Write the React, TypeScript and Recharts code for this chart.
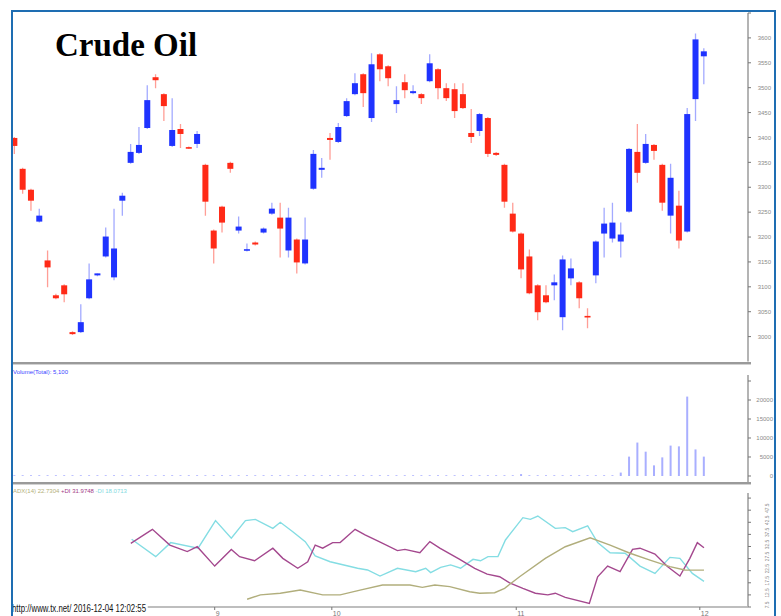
import React from 'react';
import { ComposedChart, BarChart, LineChart, Bar, Line, XAxis, YAxis } from 'recharts';

// ---- Price candles (one per trading day) ----
const opens = [3399,3337,3295,3231,3153,3083,3103,3009,3009,3077,3123,3161,3119,3273,3349,3369,3419,3521,3487,3383,3417,3380,3387,3345,3213,3261,3349,3213,3173,3189,3209,3247,3239,3173,3195,3147,3297,3335,3399,3391,3443,3487,3527,3439,3567,3543,3467,3511,3489,3487,3513,3537,3499,3497,3487,3409,3413,3439,3369,3345,3247,3207,3161,3103,3083,3103,3039,3117,3109,3041,3123,3207,3197,3191,3251,3371,3349,3385,3345,3243,3263,3211,3477,3563];
const highs = [3401,3339,3297,3257,3173,3086,3105,3011,3065,3147,3127,3219,3257,3289,3387,3421,3505,3527,3489,3479,3427,3382,3413,3347,3215,3263,3351,3241,3187,3191,3219,3269,3269,3259,3197,3239,3375,3359,3409,3429,3479,3529,3529,3569,3569,3545,3503,3527,3505,3489,3567,3539,3509,3509,3509,3457,3449,3441,3371,3347,3269,3209,3175,3105,3103,3125,3163,3157,3111,3057,3193,3259,3269,3229,3379,3427,3407,3387,3347,3347,3293,3459,3609,3579];
const lows = [3367,3287,3253,3229,3099,3075,3069,3003,3007,3075,3121,3159,3113,3243,3347,3367,3417,3499,3433,3381,3379,3377,3379,3243,3147,3209,3329,3207,3171,3183,3207,3245,3159,3159,3127,3145,3295,3319,3355,3389,3441,3485,3461,3431,3513,3503,3449,3479,3487,3467,3511,3477,3473,3439,3457,3389,3403,3361,3363,3259,3209,3117,3085,3033,3067,3073,3013,3103,3057,3017,3107,3159,3189,3159,3249,3309,3347,3355,3253,3207,3177,3209,3433,3507];
const closes = [3383,3295,3273,3243,3139,3077,3085,3005,3029,3115,3127,3201,3177,3283,3371,3385,3475,3515,3463,3415,3407,3378,3407,3271,3177,3229,3337,3221,3175,3185,3217,3257,3217,3239,3149,3195,3367,3339,3395,3421,3473,3509,3489,3547,3537,3519,3475,3495,3493,3479,3549,3499,3479,3453,3459,3401,3447,3367,3365,3271,3211,3135,3087,3049,3069,3109,3155,3137,3077,3039,3191,3227,3229,3205,3377,3329,3387,3373,3269,3319,3193,3447,3597,3573];
const volumes = [200,200,200,200,200,200,200,200,200,200,200,200,200,200,200,200,200,200,200,200,200,200,200,200,200,200,200,200,200,200,200,200,200,200,200,200,200,200,200,200,200,200,200,200,200,200,200,200,200,200,200,200,200,200,200,200,200,200,200,200,200,500,200,200,200,200,200,200,200,200,200,200,200,900,5100,8800,6400,2800,4900,8000,7800,20900,7000,5100];

// ---- Axis ticks ----
const priceTicks = [3000,3050,3100,3150,3200,3250,3300,3350,3400,3450,3500,3550,3600,3650];
const volumeTicks = [0,5000,10000,15000,20000,25000];
const adxTicks = [7.5,12.5,17.5,22.5,27.5,32.5,37.5,42.5,47.5,52.5];
const monthTickPos = [24.1, 38.2, 60.4, 82.5];
const monthLabels = ['9','10','11','12'];

// ---- ADX(14) indicator: [day position, value] ----
const adxPts = [[28.0,10.7],[29.6,12.5],[32.0,13.2],[34.4,14.5],[37.1,12.5],[39.2,12.5],[41.6,14.5],[44.3,16.6],[47.6,16.6],[49.1,15.6],[50.6,16.6],[52.4,15.9],[54.8,13.8],[56.0,13.2],[57.8,13.4],[59.0,15.2],[60.8,20.0],[63.9,27.6],[66.3,32.4],[69.3,36.1],[71.7,33.1],[74.1,29.7],[76.5,26.9],[78.9,24.2],[80.7,22.8],[83,22.73]];
const plusDiPts = [[14.0,33.8],[16.6,39.6],[18.7,33.1],[20.8,30.4],[22.0,32.4],[24.1,24.4],[26.1,31.3],[27.1,28.3],[28.9,26.6],[31.1,31.8],[32.3,27.6],[34.1,23.5],[35.3,26.2],[36.2,33.1],[37.1,31.8],[38.3,34.1],[39.2,34.1],[41.0,39.6],[42.2,37.3],[43.9,34.5],[46.1,30.8],[47.0,31.3],[48.8,29.9],[50.0,34.5],[51.2,31.8],[53.6,27.2],[55.4,23.5],[56.9,21.1],[58.4,20.0],[59.6,17.5],[61.2,15.2],[62.7,13.2],[64.2,12.5],[65.1,13.2],[66.3,11.5],[69.2,9.0],[70.2,20.0],[71.4,24.4],[72.9,22.1],[74.4,31.3],[75.3,31.8],[77.1,29.4],[78.6,24.2],[80.1,20.3],[81.3,27.6],[82.2,34.1],[83,31.97]];
const minusDiPts = [[14.1,35.5],[17.0,28.3],[18.8,34.1],[22.1,31.8],[24.2,43.2],[26.1,35.9],[27.8,43.2],[29.0,43.7],[31.1,40.0],[32.0,42.5],[33.5,38.6],[35.0,34.5],[36.2,28.6],[38.0,26.2],[41.3,23.5],[42.5,22.8],[44.0,20.3],[46.1,23.5],[48.3,22.1],[49.5,23.5],[50.1,21.7],[51.3,23.9],[52.5,24.9],[53.7,23.5],[55.2,27.2],[56.1,26.6],[57.0,28.3],[58.2,28.3],[59.1,35.2],[61.2,44.4],[62.1,43.7],[63.0,45.1],[65.1,40.0],[66.3,40.3],[67.2,38.6],[69.0,41.0],[70.2,34.1],[71.7,29.9],[73.5,29.7],[75.3,24.4],[77.1,21.4],[78.9,28.0],[80.1,27.6],[81.6,21.4],[83,18.07]];

const candleData = opens.map((o, i) => ({ i, open: o, high: highs[i], low: lows[i], close: closes[i], vol: volumes[i] }));
const toPts = (arr: number[][]) => arr.map(([i, v]) => ({ i, v }));
const adxData = toPts(adxPts);
const plusData = toPts(plusDiPts);
const minusData = toPts(minusDiPts);

const X_DOMAIN: [number, number] = [-0.301, 88.3];
const FONT = 'Liberation Sans, Arial, sans-serif';

const Candle = (props: any) => {
  const { x, y, width, height, payload } = props;
  if (x == null || y == null) return <g />;
  const { open, close, high, low } = payload;
  const up = close >= open;
  const span = high - low || 1;
  const yOf = (v: number) => y + ((high - v) / span) * height;
  const cx = x + width / 2;
  const top = yOf(Math.max(open, close));
  const bot = yOf(Math.min(open, close));
  const bh = Math.max(bot - top, 1.6);
  return (
    <g>
      <line x1={cx} x2={cx} y1={y} y2={y + height} stroke={up ? '#a3aaff' : '#ff9e96'} strokeWidth={1.3} />
      <rect x={x} y={top - (bh - (bot - top)) / 2} width={width} height={bh} fill={up ? '#1f33ff' : '#ff2a17'} />
    </g>
  );
};

const PriceTick = ({ y, payload }: any) =>
  payload.value === 3650 ? <g /> : (
    <text x={771} y={y} dy={2.2} textAnchor="end" fontSize={6} fill="#8a8a8a" fontFamily={FONT}>{payload.value}</text>
  );

const VolTick = ({ y, payload }: any) =>
  payload.value === 25000 ? <g /> : (
    <text x={773} y={y} dy={2.2} textAnchor="end" fontSize={6} fill="#8a8a8a" fontFamily={FONT}>{payload.value}</text>
  );

const AdxTick = ({ y, payload }: any) =>
  payload.value === 52.5 ? <g /> : (
    <text x={0} y={0} transform={`translate(769 ${y - 2}) rotate(-90)`} textAnchor="middle" fontSize={4.8} fill="#8a8a8a" fontFamily={FONT}>{payload.value}</text>
  );

const MonthTick = ({ x, y, payload }: any) => {
  const k = monthTickPos.indexOf(payload.value);
  return (
    <text x={x + 1} y={y + 4} fontSize={7} fill="#777" fontFamily={FONT}>{monthLabels[k]}</text>
  );
};

const abs = (left: number, top: number): React.CSSProperties => ({ position: 'absolute', left, top });

export default function App() {
  return (
    <div style={{ position: 'absolute', left: 0, top: 0, width: 781, height: 616, background: '#fff', overflow: 'hidden' }}>
      {/* Price panel */}
      <div style={abs(0, 0)}>
        <ComposedChart width={781} height={370} data={candleData} margin={{ top: 13, right: 0, bottom: 8.5, left: 12 }}>
          <XAxis type="number" dataKey="i" domain={X_DOMAIN} allowDataOverflow hide />
          <YAxis orientation="right" type="number" domain={[2950, 3650]} allowDataOverflow ticks={priceTicks} interval={0}
            width={33} axisLine={{ stroke: '#b4b4b4', strokeWidth: 2 }} tickLine={{ stroke: '#777' }} tickSize={3} tick={<PriceTick />} />
          <Bar dataKey={(d: any) => [d.low, d.high]} barSize={6} shape={<Candle />} isAnimationActive={false} />
        </ComposedChart>
      </div>

      {/* Volume panel */}
      <div style={abs(0, 365)}>
        <BarChart width={781} height={120} data={candleData} margin={{ top: 10, right: 0, bottom: 3, left: 12 }}>
          <XAxis type="number" dataKey="i" domain={X_DOMAIN} allowDataOverflow hide />
          <YAxis orientation="right" type="number" domain={[-1580, 26580]} allowDataOverflow ticks={volumeTicks} interval={0}
            width={33} axisLine={{ stroke: '#b4b4b4', strokeWidth: 2 }} tickLine={{ stroke: '#777' }} tickSize={3} tick={<VolTick />} />
          <Bar dataKey="vol" barSize={2} fill="#a9afff" isAnimationActive={false} />
        </BarChart>
      </div>

      {/* ADX panel */}
      <div style={abs(0, 485)}>
        <LineChart width={781} height={131} margin={{ top: 8, right: 0, bottom: 0, left: 12 }}>
          <XAxis type="number" dataKey="i" domain={X_DOMAIN} allowDataOverflow ticks={monthTickPos} interval={0} height={9}
            axisLine={{ stroke: '#a8a8a8', strokeWidth: 1.5 }} tickLine={{ stroke: '#777' }} tickSize={3} tick={<MonthTick />} />
          <YAxis orientation="right" type="number" domain={[7.5, 54.6]} allowDataOverflow ticks={adxTicks} interval={0}
            width={33} axisLine={{ stroke: '#b4b4b4', strokeWidth: 2 }} tickLine={{ stroke: '#777' }} tickSize={3} tick={<AdxTick />} />
          <Line data={minusData} dataKey="v" type="linear" stroke="#84dde3" strokeWidth={1.4} dot={false} isAnimationActive={false} />
          <Line data={plusData} dataKey="v" type="linear" stroke="#a4488e" strokeWidth={1.4} dot={false} isAnimationActive={false} />
          <Line data={adxData} dataKey="v" type="linear" stroke="#b1ae7c" strokeWidth={1.4} dot={false} isAnimationActive={false} />
        </LineChart>
      </div>

      {/* panel separators */}
      <div style={{ ...abs(11, 362), width: 740, height: 3, background: 'linear-gradient(#9a9a9a 0 66%, #d2d2d2 66%)' }} />
      <div style={{ ...abs(11, 482), width: 740, height: 3, background: 'linear-gradient(#9a9a9a 0 66%, #d2d2d2 66%)' }} />

      {/* titles and legends */}
      <div style={{ ...abs(55, 29), fontFamily: 'Liberation Serif, serif', fontWeight: 700, fontSize: 33, lineHeight: '33px', color: '#000', whiteSpace: 'nowrap' }}>Crude Oil</div>
      <div style={{ ...abs(13, 368), fontFamily: FONT, fontSize: 6, lineHeight: '8px', color: '#3a46ff', whiteSpace: 'nowrap' }}>Volume(Total): 5,100</div>
      <div style={{ ...abs(13, 487), fontFamily: FONT, fontSize: 6, lineHeight: '8px', whiteSpace: 'nowrap' }}>
        <span style={{ color: '#b3b07a' }}>ADX(14) 22.7304 </span>
        <span style={{ color: '#a33a86' }}>+DI 31.9748 </span>
        <span style={{ color: '#7fd9e0' }}>-DI 18.0713</span>
      </div>
      <div style={{ ...abs(12, 603), background: '#fff', paddingRight: 2, fontFamily: FONT, fontSize: 10, lineHeight: '12px', color: '#111', whiteSpace: 'nowrap', transform: 'scaleX(0.78)', transformOrigin: 'left top' }}>
        http://www.tx.net/ 2016-12-04 12:02:55
      </div>

      {/* frame */}
      <div style={{ ...abs(11, 10), width: 765, height: 630, border: '2px solid #1e6db2', boxSizing: 'border-box', pointerEvents: 'none' }} />
    </div>
  );
}
